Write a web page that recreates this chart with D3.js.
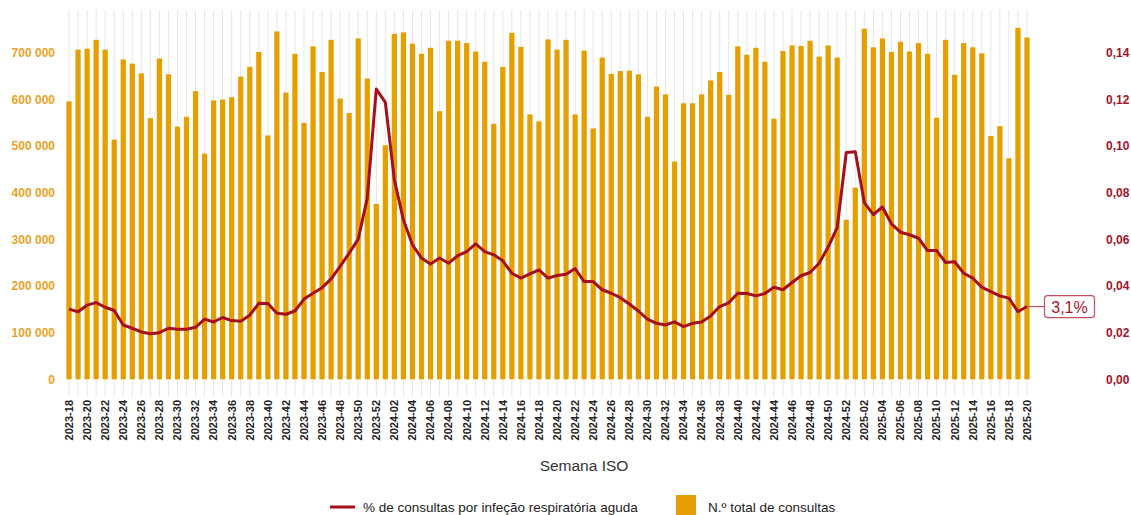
<!DOCTYPE html>
<html>
<head>
<meta charset="utf-8">
<script src="https://cdn.jsdelivr.net/npm/d3@7"></script>
<style>
  html, body { margin: 0; padding: 0; background: #fff; }
  svg { display: block; font-family: "Liberation Sans", Arial, sans-serif; }
</style>
</head>
<body>
<svg id="chart" width="1131" height="515"></svg>
<script>
// ---- Data ----
const weeks = [];
for (let w = 18; w <= 52; w++) weeks.push("2023-" + String(w).padStart(2, "0"));
for (let w = 1; w <= 52; w++) weeks.push("2024-" + String(w).padStart(2, "0"));
for (let w = 1; w <= 20; w++) weeks.push("2025-" + String(w).padStart(2, "0"));

const totalConsultas = [
  596000, 707000, 709000, 728000, 707000, 514000, 686000, 677000, 656000, 560000,
  688000, 654000, 542000, 563000, 618000, 484000, 598000, 600000, 605000, 649000,
  670000, 702000, 523000, 746000, 615000, 698000, 550000, 714000, 659000, 728000,
  602000, 571000, 731000, 645000, 376000,
  502000, 741000, 744000, 720000, 698000, 711000, 575000, 726000, 726000, 721000,
  703000, 681000, 548000, 670000, 743000, 713000, 568000, 553000, 729000, 707000,
  728000, 568000, 705000, 538000, 690000, 655000, 661000, 662000, 654000, 563000,
  628000, 611000, 467000, 592000, 592000, 611000, 641000, 659000, 610000, 714000,
  696000, 711000, 681000, 559000, 704000, 716000, 715000, 726000, 692000, 716000,
  690000, 342000, 411000,
  752000, 712000, 731000, 702000, 724000, 703000, 721000, 698000, 561000, 728000,
  653000, 721000, 712000, 699000, 522000, 543000, 474000, 754000, 733000
];

const pctIRA = [
  0.0301, 0.0290, 0.0318, 0.0329, 0.0309, 0.0295, 0.0233, 0.0219, 0.0203, 0.0195,
  0.0200, 0.0219, 0.0215, 0.0215, 0.0223, 0.0258, 0.0246, 0.0265, 0.0252, 0.0249,
  0.0275, 0.0326, 0.0325, 0.0283, 0.0279, 0.0293, 0.0344, 0.0369, 0.0393, 0.0431,
  0.0484, 0.0541, 0.0601, 0.0777, 0.1245,
  0.1188, 0.0856, 0.0684, 0.0577, 0.0520, 0.0494, 0.0520, 0.0498, 0.0530, 0.0548,
  0.0581, 0.0548, 0.0534, 0.0508, 0.0455, 0.0434, 0.0452, 0.0469, 0.0434, 0.0445,
  0.0451, 0.0475, 0.0419, 0.0419, 0.0384, 0.0369, 0.0350, 0.0323, 0.0293, 0.0258,
  0.0240, 0.0233, 0.0246, 0.0226, 0.0240, 0.0246, 0.0272, 0.0312, 0.0328, 0.0369,
  0.0368, 0.0358, 0.0368, 0.0395, 0.0384, 0.0415, 0.0444, 0.0458, 0.0498, 0.0567,
  0.0651, 0.0973, 0.0976,
  0.0758, 0.0706, 0.0739, 0.0667, 0.0631, 0.0620, 0.0605, 0.0552, 0.0552, 0.0501,
  0.0504, 0.0455, 0.0434, 0.0395, 0.0376, 0.0358, 0.0348, 0.0290, 0.0312
];

const leftTicks = [0, 100000, 200000, 300000, 400000, 500000, 600000, 700000];
const rightTicks = [0, 0.02, 0.04, 0.06, 0.08, 0.10, 0.12, 0.14];
const xTickLabels = weeks.filter((d, i) => i % 2 === 0);
const lastLabel = "3,1%";
const xTitle = "Semana ISO";
const legendLine = "% de consultas por infeção respiratória aguda";
const legendBar = "N.º total de consultas";

// ---- Layout ----
const svg = d3.select("#chart");
const plotTop = 10, plotBottom = 379.3;
const colBar = "#E69F00", colLine = "#A50F1E", colLeft = "#E8A325", colRight = "#A3142A";

const x = d3.scaleBand().domain(weeks).range([64.5, 1031.5]).paddingInner(0.42).paddingOuter(0.21);
const yL = d3.scaleLinear().domain([0, 792000]).range([plotBottom, plotTop]);
const yR = d3.scaleLinear().domain([0, 0.1584]).range([plotBottom, plotTop]);
const cx = d => x(d) + x.bandwidth() / 2;

// vertical gridlines (each week), extending below the plot as ticks
svg.append("g").selectAll("line").data(weeks).join("line")
  .attr("x1", d => cx(d)).attr("x2", d => cx(d))
  .attr("y1", plotTop).attr("y2", 397)
  .attr("stroke", "#e6e6e6").attr("stroke-width", 1);

// bars
svg.append("g").selectAll("rect").data(weeks).join("rect")
  .attr("x", d => x(d)).attr("width", x.bandwidth())
  .attr("y", (d, i) => yL(totalConsultas[i]))
  .attr("height", (d, i) => plotBottom - yL(totalConsultas[i]))
  .attr("fill", colBar);

// line
const line = d3.line().x((d, i) => cx(weeks[i])).y(d => yR(d));
svg.append("path").datum(pctIRA)
  .attr("d", line).attr("fill", "none")
  .attr("stroke", colLine).attr("stroke-width", 3).attr("stroke-linejoin", "round");

// left axis
const fmtL = v => d3.format(",")(v).replace(/,/g, " ");
const axL = d3.axisLeft(yL).tickValues(leftTicks).tickFormat(fmtL).tickSize(0).tickPadding(0);
const gL = svg.append("g").attr("transform", "translate(55,0)").call(axL);
gL.select(".domain").remove();
gL.selectAll("text").attr("fill", colLeft).attr("font-size", 12).attr("font-weight", "bold")
  .attr("font-family", "Liberation Sans, Arial, sans-serif");

// right axis
const fmtR = v => d3.format(".2f")(v).replace(".", ",");
const axR = d3.axisRight(yR).tickValues(rightTicks).tickFormat(fmtR).tickSize(0).tickPadding(0);
const gR = svg.append("g").attr("transform", "translate(1106,0)").call(axR);
gR.select(".domain").remove();
gR.selectAll("text").attr("fill", colRight).attr("font-size", 12).attr("font-weight", "bold")
  .attr("font-family", "Liberation Sans, Arial, sans-serif");

// x axis labels
const axX = d3.axisBottom(x).tickValues(xTickLabels).tickSize(0).tickPadding(0);
const gX = svg.append("g").attr("transform", "translate(0,400)").call(axX);
gX.select(".domain").remove();
gX.selectAll("text")
  .attr("transform", "rotate(-90)")
  .attr("text-anchor", "end")
  .attr("x", 0).attr("y", 0).attr("dy", "0.35em")
  .attr("fill", "#222").attr("font-size", 11).attr("font-weight", "bold")
  .attr("font-family", "Liberation Sans, Arial, sans-serif");

// x title
svg.append("text").attr("x", 584).attr("y", 471).attr("text-anchor", "middle")
  .attr("font-size", 15.5).attr("fill", "#333").text(xTitle);

// legend
svg.append("line").attr("x1", 330).attr("x2", 355).attr("y1", 507).attr("y2", 507)
  .attr("stroke", colLine).attr("stroke-width", 3);
svg.append("text").attr("x", 363).attr("y", 512).attr("font-size", 13.5).attr("fill", "#222").text(legendLine);
svg.append("rect").attr("x", 676).attr("y", 495).attr("width", 20).attr("height", 20).attr("fill", colBar);
svg.append("text").attr("x", 708).attr("y", 512).attr("font-size", 13.5).attr("fill", "#222").text(legendBar);

// end label
const lastI = pctIRA.length - 1;
const lx = cx(weeks[lastI]), ly = yR(pctIRA[lastI]);
svg.append("line").attr("x1", lx).attr("x2", 1045).attr("y1", ly).attr("y2", ly)
  .attr("stroke", "#C8505F").attr("stroke-width", 1.2);
svg.append("rect").attr("x", 1044.5).attr("y", ly - 11).attr("width", 50).attr("height", 22)
  .attr("rx", 3).attr("fill", "#fff").attr("stroke", "#C8505F").attr("stroke-width", 1.2);
svg.append("text").attr("x", 1069.5).attr("y", ly + 6).attr("text-anchor", "middle")
  .attr("font-size", 16).attr("fill", colRight).text(lastLabel);
</script>
</body>
</html>
